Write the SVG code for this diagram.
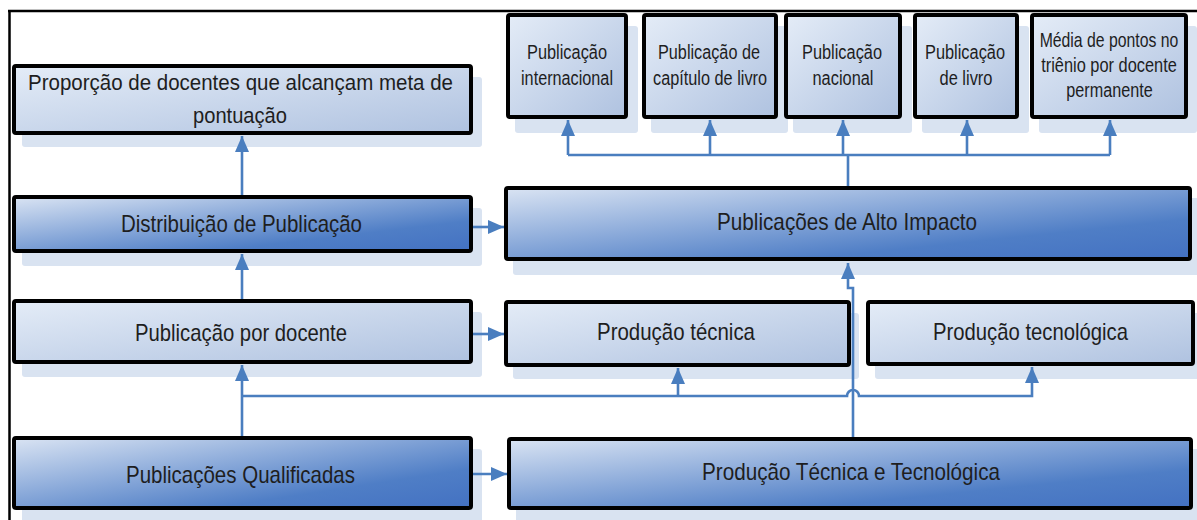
<svg xmlns="http://www.w3.org/2000/svg" width="1197" height="520" viewBox="0 0 1197 520">
<style>
.box{stroke:#000;stroke-width:4}
.light{fill:url(#gl)}
.dark{fill:url(#gd)}
.sh{fill:#d9e3f1}
.t{font-family:"Liberation Sans",Arial,sans-serif;fill:#1e1e1e;text-anchor:middle}
.s{font-size:20px}
.m{font-size:22px}
.b{font-size:24px}
.c{fill:none;stroke:#4a7ebf;stroke-width:2.6}
.a{marker-end:url(#ah)}
</style>
<defs>
<linearGradient id="gl" x1="0" y1="0" x2="1" y2="1">
<stop offset="0" stop-color="#e4ecf7"/>
<stop offset="1" stop-color="#afc2e0"/>
</linearGradient>
<linearGradient id="gd" x1="0" y1="0" x2="1" y2="1">
<stop offset="0" stop-color="#dae4f3"/>
<stop offset="0.42" stop-color="#88a8d9"/>
<stop offset="0.72" stop-color="#4f7ec6"/>
<stop offset="1" stop-color="#4371c2"/>
</linearGradient>
<marker id="ah" viewBox="0 0 16 14" refX="16" refY="7" markerWidth="16" markerHeight="14" markerUnits="userSpaceOnUse" orient="auto">
<path d="M0,0 L16,7 L0,14 Z" fill="#4a7ebf"/>
</marker>
</defs>
<rect width="1197" height="520" fill="#fff"/>
<g id="frame">
<path d="M8 11 H1197 M9.5 10 V520" stroke="#000" stroke-width="2.5" fill="none"/>
</g>

<g id="proporcao">
<rect class="sh" x="22" y="77" width="460" height="70" rx="3"/>
<rect class="box light" x="14" y="66" width="457" height="67" rx="2"/>
<text class="t m" x="240.5" y="90" textLength="425" lengthAdjust="spacingAndGlyphs">Proporção de docentes que alcançam meta de</text>
<text class="t m" x="240" y="123" textLength="94" lengthAdjust="spacingAndGlyphs">pontuação</text>
</g>

<g id="pub-internacional">
<rect class="sh" x="515" y="26" width="123" height="107" rx="3"/>
<rect class="box light" x="508" y="15" width="118" height="102" rx="2"/>
<text class="t s" x="567" y="59" textLength="80" lengthAdjust="spacingAndGlyphs">Publicação</text>
<text class="t s" x="567" y="85" textLength="92" lengthAdjust="spacingAndGlyphs">internacional</text>
</g>
<g id="pub-capitulo">
<rect class="sh" x="651" y="26" width="137" height="107" rx="3"/>
<rect class="box light" x="644" y="15" width="132" height="102" rx="2"/>
<text class="t s" x="709" y="59" textLength="102" lengthAdjust="spacingAndGlyphs">Publicação de</text>
<text class="t s" x="710" y="85" textLength="114" lengthAdjust="spacingAndGlyphs">capítulo de livro</text>
</g>
<g id="pub-nacional">
<rect class="sh" x="793" y="26" width="119" height="107" rx="3"/>
<rect class="box light" x="786" y="15" width="114" height="102" rx="2"/>
<text class="t s" x="842" y="59" textLength="80" lengthAdjust="spacingAndGlyphs">Publicação</text>
<text class="t s" x="843" y="85" textLength="61" lengthAdjust="spacingAndGlyphs">nacional</text>
</g>
<g id="pub-livro">
<rect class="sh" x="922" y="26" width="107" height="107" rx="3"/>
<rect class="box light" x="915" y="15" width="102" height="102" rx="2"/>
<text class="t s" x="965" y="59" textLength="80" lengthAdjust="spacingAndGlyphs">Publicação</text>
<text class="t s" x="966" y="85" textLength="53" lengthAdjust="spacingAndGlyphs">de livro</text>
</g>
<g id="media-pontos">
<rect class="sh" x="1039" y="26" width="158" height="107" rx="3"/>
<rect class="box light" x="1032" y="15" width="154" height="102" rx="2"/>
<text class="t s" transform="translate(1109 47) scale(0.79 1)">Média de pontos no</text>
<text class="t s" transform="translate(1109 72) scale(0.82 1)">triênio por docente</text>
<text class="t s" transform="translate(1109.5 97) scale(0.81 1)">permanente</text>
</g>

<g id="distribuicao">
<rect class="sh" x="22" y="208" width="460" height="58" rx="3"/>
<rect class="box dark" x="14" y="197" width="457" height="54" rx="2"/>
<text class="t b" x="241.5" y="232" textLength="241" lengthAdjust="spacingAndGlyphs">Distribuição de Publicação</text>
</g>
<g id="alto-impacto">
<rect class="sh" x="513" y="198" width="688" height="77" rx="3"/>
<rect class="box dark" x="506" y="188" width="684" height="71" rx="2"/>
<text class="t b" x="847" y="230" textLength="260" lengthAdjust="spacingAndGlyphs">Publicações de Alto Impacto</text>
</g>

<g id="pub-docente">
<rect class="sh" x="22" y="312" width="460" height="65" rx="3"/>
<rect class="box light" x="14" y="301" width="457" height="61" rx="2"/>
<text class="t b" x="241" y="341" textLength="212" lengthAdjust="spacingAndGlyphs">Publicação por docente</text>
</g>
<g id="prod-tecnica">
<rect class="sh" x="513" y="313" width="346" height="66" rx="3"/>
<rect class="box light" x="506" y="302" width="343" height="63" rx="2"/>
<text class="t b" x="676" y="340" textLength="158" lengthAdjust="spacingAndGlyphs">Produção técnica</text>
</g>
<g id="prod-tecnologica">
<rect class="sh" x="875" y="313" width="330" height="66" rx="3"/>
<rect class="box light" x="868" y="302" width="325" height="62" rx="2"/>
<text class="t b" x="1030.5" y="340" textLength="195" lengthAdjust="spacingAndGlyphs">Produção tecnológica</text>
</g>

<g id="qualificadas">
<rect class="sh" x="22" y="449" width="460" height="80" rx="3"/>
<rect class="box dark" x="14" y="438" width="457" height="70" rx="2"/>
<text class="t b" x="240.5" y="483" textLength="229" lengthAdjust="spacingAndGlyphs">Publicações Qualificadas</text>
</g>
<g id="tecnica-tecnologica">
<rect class="sh" x="516" y="449" width="688" height="80" rx="3"/>
<rect class="box dark" x="509" y="439" width="682" height="69" rx="2"/>
<text class="t b" x="851" y="480" textLength="298" lengthAdjust="spacingAndGlyphs">Produção Técnica e Tecnológica</text>
</g>

<g id="connectors">
<path class="c a" d="M242 195 V136"/>
<path class="c a" d="M242 299 V254"/>
<path class="c a" d="M242 436 V365"/>
<path class="c a" d="M473 227 H504"/>
<path class="c a" d="M473 334 H504"/>
<path class="c a" d="M473 474 H507"/>
<path class="c a" d="M242 396 H847 A6 6 0 0 1 859 396 H1032 V367"/>
<path class="c a" d="M678 396 V368"/>
<path class="c a" d="M853 437 V288 H848 V263"/>
<path class="c" d="M848 186 V155 M568 155 H1110"/>
<path class="c a" d="M568 155 V120"/>
<path class="c a" d="M710 155 V120"/>
<path class="c a" d="M843 155 V120"/>
<path class="c a" d="M967 155 V120"/>
<path class="c a" d="M1110 155 V120"/>
</g>
</svg>
